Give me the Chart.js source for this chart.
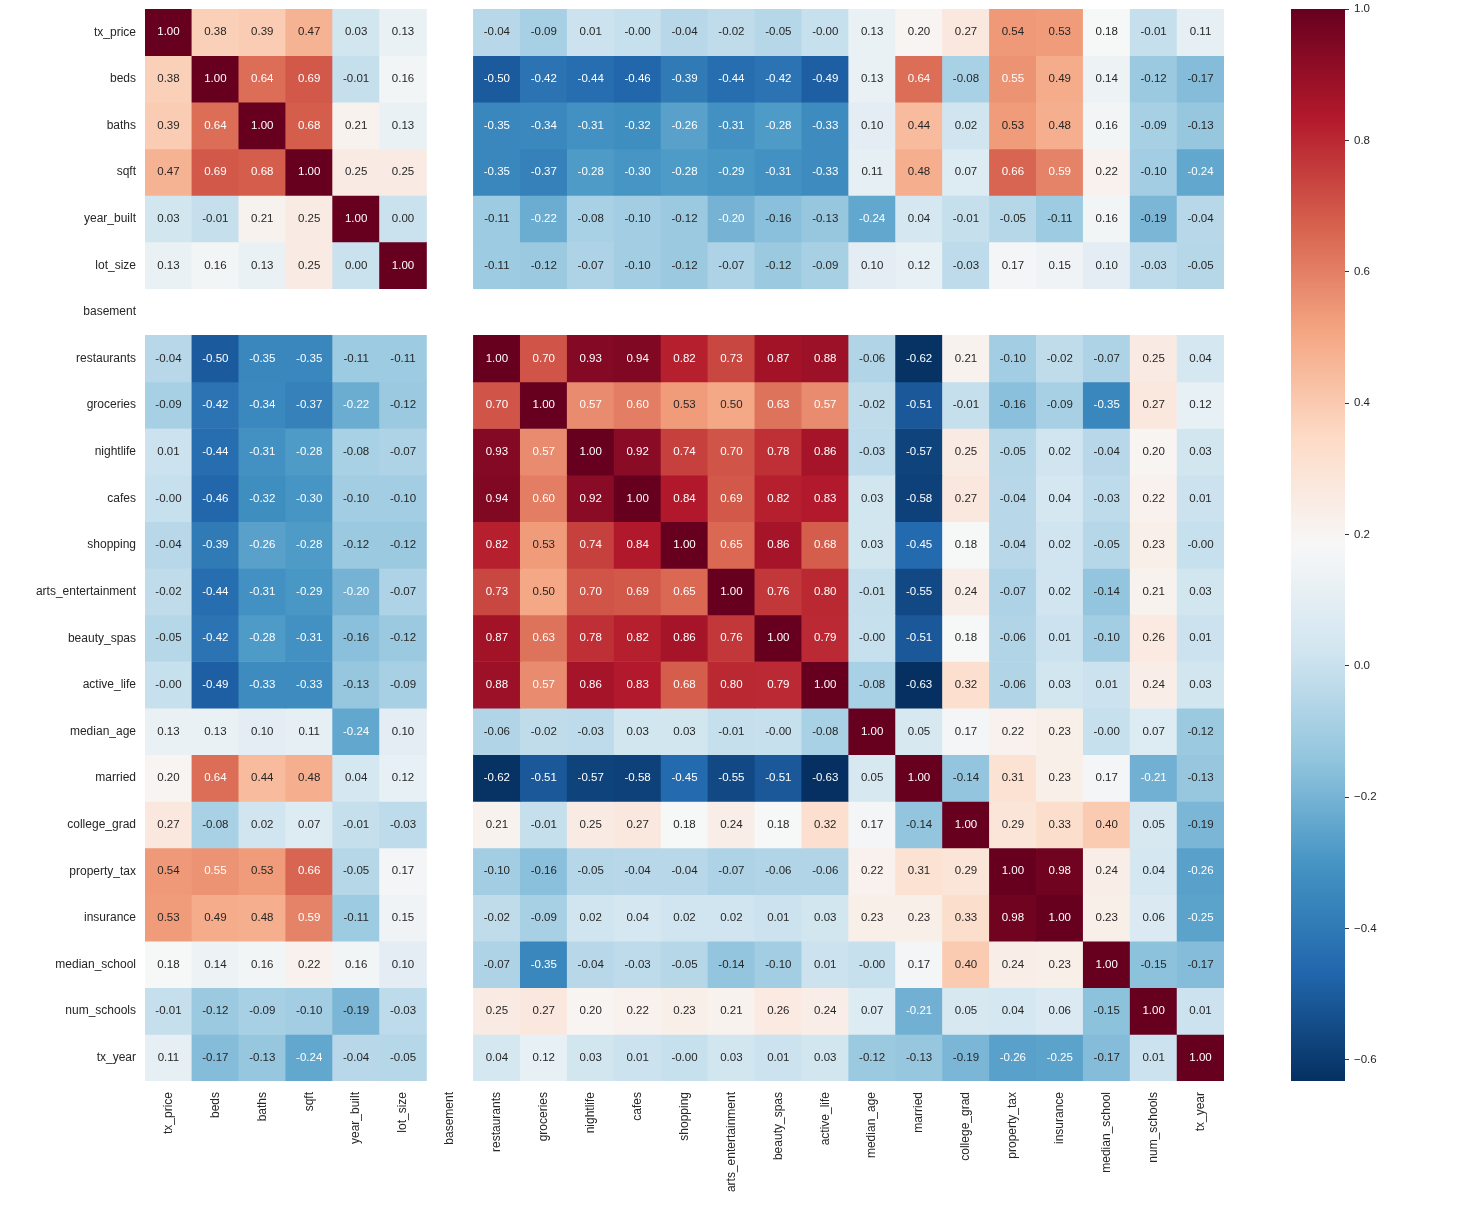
<!DOCTYPE html>
<html>
<head>
<meta charset="utf-8">
<script src="https://cdn.jsdelivr.net/npm/chart.js@4.4.0/dist/chart.umd.min.js"></script>
<style>
  body { margin: 0; background: #fff; width: 1464px; height: 1208px; position: relative; overflow: hidden; }
  #heat { position: absolute; left: 0; top: 0; }
  #cbar { position: absolute; left: 1280px; top: 0; }
</style>
</head>
<body>
<canvas id="heat" width="1260" height="1208"></canvas>
<canvas id="cbar" width="184" height="1208"></canvas>
<script>
const variables = ['tx_price', 'beds', 'baths', 'sqft', 'year_built', 'lot_size', 'basement',
  'restaurants', 'groceries', 'nightlife', 'cafes', 'shopping', 'arts_entertainment',
  'beauty_spas', 'active_life', 'median_age', 'married', 'college_grad', 'property_tax',
  'insurance', 'median_school', 'num_schools', 'tx_year'];

const N = NaN;
// correlation rows, same order as variables (basement has no variance -> NaN)
const tx_price      = [1.00, 0.38, 0.39, 0.47, 0.03, 0.13, N, -0.04, -0.09, 0.01, -0.002, -0.04, -0.02, -0.05, -0.002, 0.13, 0.20, 0.27, 0.54, 0.53, 0.18, -0.01, 0.11];
const beds          = [0.38, 1.00, 0.64, 0.69, -0.01, 0.16, N, -0.50, -0.42, -0.44, -0.46, -0.39, -0.44, -0.42, -0.49, 0.13, 0.64, -0.08, 0.55, 0.49, 0.14, -0.12, -0.17];
const baths         = [0.39, 0.64, 1.00, 0.68, 0.21, 0.13, N, -0.35, -0.34, -0.31, -0.32, -0.26, -0.31, -0.28, -0.33, 0.10, 0.44, 0.02, 0.53, 0.48, 0.16, -0.09, -0.13];
const sqft          = [0.47, 0.69, 0.68, 1.00, 0.25, 0.25, N, -0.35, -0.37, -0.28, -0.30, -0.28, -0.29, -0.31, -0.33, 0.11, 0.48, 0.07, 0.66, 0.59, 0.22, -0.10, -0.24];
const year_built    = [0.03, -0.01, 0.21, 0.25, 1.00, 0.00, N, -0.11, -0.22, -0.08, -0.10, -0.12, -0.20, -0.16, -0.13, -0.24, 0.04, -0.01, -0.05, -0.11, 0.16, -0.19, -0.04];
const lot_size      = [0.13, 0.16, 0.13, 0.25, 0.00, 1.00, N, -0.11, -0.12, -0.07, -0.10, -0.12, -0.07, -0.12, -0.09, 0.10, 0.12, -0.03, 0.17, 0.15, 0.10, -0.03, -0.05];
const basement      = [N, N, N, N, N, N, N, N, N, N, N, N, N, N, N, N, N, N, N, N, N, N, N];
const restaurants   = [-0.04, -0.50, -0.35, -0.35, -0.11, -0.11, N, 1.00, 0.70, 0.93, 0.94, 0.82, 0.73, 0.87, 0.88, -0.06, -0.62, 0.21, -0.10, -0.02, -0.07, 0.25, 0.04];
const groceries     = [-0.09, -0.42, -0.34, -0.37, -0.22, -0.12, N, 0.70, 1.00, 0.57, 0.60, 0.53, 0.50, 0.63, 0.57, -0.02, -0.51, -0.01, -0.16, -0.09, -0.35, 0.27, 0.12];
const nightlife     = [0.01, -0.44, -0.31, -0.28, -0.08, -0.07, N, 0.93, 0.57, 1.00, 0.92, 0.74, 0.70, 0.78, 0.86, -0.03, -0.57, 0.25, -0.05, 0.02, -0.04, 0.20, 0.03];
const cafes         = [-0.002, -0.46, -0.32, -0.30, -0.10, -0.10, N, 0.94, 0.60, 0.92, 1.00, 0.84, 0.69, 0.82, 0.83, 0.03, -0.58, 0.27, -0.04, 0.04, -0.03, 0.22, 0.01];
const shopping      = [-0.04, -0.39, -0.26, -0.28, -0.12, -0.12, N, 0.82, 0.53, 0.74, 0.84, 1.00, 0.65, 0.86, 0.68, 0.03, -0.45, 0.18, -0.04, 0.02, -0.05, 0.23, -0.002];
const arts_ent      = [-0.02, -0.44, -0.31, -0.29, -0.20, -0.07, N, 0.73, 0.50, 0.70, 0.69, 0.65, 1.00, 0.76, 0.80, -0.01, -0.55, 0.24, -0.07, 0.02, -0.14, 0.21, 0.03];
const beauty_spas   = [-0.05, -0.42, -0.28, -0.31, -0.16, -0.12, N, 0.87, 0.63, 0.78, 0.82, 0.86, 0.76, 1.00, 0.79, -0.002, -0.51, 0.18, -0.06, 0.01, -0.10, 0.26, 0.01];
const active_life   = [-0.002, -0.49, -0.33, -0.33, -0.13, -0.09, N, 0.88, 0.57, 0.86, 0.83, 0.68, 0.80, 0.79, 1.00, -0.08, -0.632, 0.32, -0.06, 0.03, 0.01, 0.24, 0.03];
const median_age    = [0.13, 0.13, 0.10, 0.11, -0.24, 0.10, N, -0.06, -0.02, -0.03, 0.03, 0.03, -0.01, -0.002, -0.08, 1.00, 0.05, 0.17, 0.22, 0.23, -0.002, 0.07, -0.12];
const married       = [0.20, 0.64, 0.44, 0.48, 0.04, 0.12, N, -0.62, -0.51, -0.57, -0.58, -0.45, -0.55, -0.51, -0.632, 0.05, 1.00, -0.14, 0.31, 0.23, 0.17, -0.21, -0.13];
const college_grad  = [0.27, -0.08, 0.02, 0.07, -0.01, -0.03, N, 0.21, -0.01, 0.25, 0.27, 0.18, 0.24, 0.18, 0.32, 0.17, -0.14, 1.00, 0.29, 0.33, 0.40, 0.05, -0.19];
const property_tax  = [0.54, 0.55, 0.53, 0.66, -0.05, 0.17, N, -0.10, -0.16, -0.05, -0.04, -0.04, -0.07, -0.06, -0.06, 0.22, 0.31, 0.29, 1.00, 0.98, 0.24, 0.04, -0.26];
const insurance     = [0.53, 0.49, 0.48, 0.59, -0.11, 0.15, N, -0.02, -0.09, 0.02, 0.04, 0.02, 0.02, 0.01, 0.03, 0.23, 0.23, 0.33, 0.98, 1.00, 0.23, 0.06, -0.25];
const median_school = [0.18, 0.14, 0.16, 0.22, 0.16, 0.10, N, -0.07, -0.35, -0.04, -0.03, -0.05, -0.14, -0.10, 0.01, -0.002, 0.17, 0.40, 0.24, 0.23, 1.00, -0.15, -0.17];
const num_schools   = [-0.01, -0.12, -0.09, -0.10, -0.19, -0.03, N, 0.25, 0.27, 0.20, 0.22, 0.23, 0.21, 0.26, 0.24, 0.07, -0.21, 0.05, 0.04, 0.06, -0.15, 1.00, 0.01];
const tx_year       = [0.11, -0.17, -0.13, -0.24, -0.04, -0.05, N, 0.04, 0.12, 0.03, 0.01, -0.002, 0.03, 0.01, 0.03, -0.12, -0.13, -0.19, -0.26, -0.25, -0.17, 0.01, 1.00];

const corr = [tx_price, beds, baths, sqft, year_built, lot_size, basement, restaurants, groceries,
  nightlife, cafes, shopping, arts_ent, beauty_spas, active_life, median_age, married,
  college_grad, property_tax, insurance, median_school, num_schools, tx_year];

const cbarTicks = [-0.6, -0.4, -0.2, 0.0, 0.2, 0.4, 0.6, 0.8, 1.0];

const vmin = Math.min(...corr.flat().filter(v => !isNaN(v)));
const vmax = 1.0;

// RdBu_r
const cmap = ['#053061', '#2166ac', '#4393c3', '#92c5de', '#d1e5f0', '#f7f7f7',
  '#fddbc7', '#f4a582', '#d6604d', '#b2182b', '#67001f'];

const FONT = "'Liberation Sans', Arial, sans-serif";
const TEXT_DARK = '#262626';

function hexToRgb(h) {
  return [parseInt(h.slice(1, 3), 16), parseInt(h.slice(3, 5), 16), parseInt(h.slice(5, 7), 16)];
}
const cmapRgb = cmap.map(hexToRgb);

function colorRgb(v) {
  let t = (v - vmin) / (vmax - vmin);
  t = Math.max(0, Math.min(1, t));
  t = Math.min(255, Math.floor(t * 256)) / 255;
  const pos = t * (cmapRgb.length - 1);
  const i = Math.min(cmapRgb.length - 2, Math.floor(pos));
  const f = pos - i;
  const a = cmapRgb[i], b = cmapRgb[i + 1];
  return [0, 1, 2].map(k => Math.round(a[k] + (b[k] - a[k]) * f));
}

function colorFor(v) {
  if (isNaN(v)) return 'rgba(0,0,0,0)';
  const c = colorRgb(v);
  return `rgb(${c[0]},${c[1]},${c[2]})`;
}

function luminance(rgb) {
  const lin = rgb.map(c => {
    c = c / 255;
    return c <= 0.03928 ? c / 12.92 : Math.pow((c + 0.055) / 1.055, 2.4);
  });
  return 0.2126 * lin[0] + 0.7152 * lin[1] + 0.0722 * lin[2];
}

const annotate = {
  id: 'annotate',
  afterDatasetsDraw(chart) {
    const ctx = chart.ctx;
    const xs = chart.scales.x, ys = chart.scales.y;
    ctx.save();
    ctx.font = `11.5px ${FONT}`;
    ctx.textAlign = 'center';
    ctx.textBaseline = 'middle';
    corr.forEach((row, r) => {
      row.forEach((v, c) => {
        if (isNaN(v)) return;
        ctx.fillStyle = luminance(colorRgb(v)) > 0.408 ? TEXT_DARK : '#ffffff';
        ctx.fillText(v.toFixed(2), xs.getPixelForValue(c), ys.getPixelForValue(r + 0.5));
      });
    });
    ctx.restore();
  }
};

function noPad(s) {
  s.paddingTop = 0; s.paddingBottom = 0; s.paddingLeft = 0; s.paddingRight = 0;
}

new Chart(document.getElementById('heat'), {
  type: 'bar',
  data: {
    labels: variables,
    datasets: corr.map((row, r) => ({
      label: variables[r],
      data: row.map(v => isNaN(v) ? null : [r, r + 1]),
      backgroundColor: row.map(colorFor),
      borderWidth: 0,
      grouped: false,
      barPercentage: 1,
      categoryPercentage: 1
    }))
  },
  options: {
    responsive: false,
    animation: false,
    layout: { padding: { top: 9, right: 36, left: 0, bottom: 0 } },
    plugins: { legend: { display: false }, tooltip: { enabled: false } },
    scales: {
      x: {
        type: 'category',
        grid: { display: false, drawTicks: false },
        border: { display: false },
        ticks: {
          autoSkip: false, maxRotation: 90, minRotation: 90, padding: 11,
          color: TEXT_DARK, font: { family: FONT, size: 12 }
        },
        afterFit: s => { s.height = 127; noPad(s); }
      },
      y: {
        type: 'linear', min: 0, max: variables.length, reverse: true,
        grid: { display: false, drawTicks: false },
        border: { display: false },
        afterBuildTicks: s => { s.ticks = variables.map((_, i) => ({ value: i + 0.5 })); },
        ticks: {
          autoSkip: false, padding: 9, color: TEXT_DARK,
          font: { family: FONT, size: 12 },
          callback: v => variables[Math.floor(v)]
        },
        afterFit: s => { s.width = 145; noPad(s); }
      }
    }
  },
  plugins: [annotate]
});

new Chart(document.getElementById('cbar'), {
  type: 'bar',
  data: {
    labels: [''],
    datasets: [{
      data: [[vmin, vmax]],
      borderWidth: 0,
      barPercentage: 1,
      categoryPercentage: 1,
      backgroundColor: (c) => {
        const a = c.chart.chartArea;
        if (!a) return null;
        const g = c.chart.ctx.createLinearGradient(0, a.bottom, 0, a.top);
        cmap.forEach((col, i) => g.addColorStop(i / (cmap.length - 1), col));
        return g;
      }
    }]
  },
  options: {
    responsive: false,
    animation: false,
    layout: { padding: { top: 9, bottom: 127, left: 11, right: 0 } },
    plugins: { legend: { display: false }, tooltip: { enabled: false } },
    scales: {
      x: { display: false },
      y: {
        position: 'right', min: vmin, max: vmax,
        grid: { display: true, drawOnChartArea: false, drawTicks: true, tickLength: 4, color: '#333333' },
        border: { display: false },
        afterBuildTicks: s => { s.ticks = cbarTicks.map(v => ({ value: v })); },
        ticks: {
          padding: 5, color: TEXT_DARK, font: { family: FONT, size: 11.5 },
          callback: v => (v < 0 ? '\u2212' : '') + Math.abs(v).toFixed(1)
        },
        afterFit: s => { s.width = 119; noPad(s); }
      }
    }
  }
});
</script>
</body>
</html>
